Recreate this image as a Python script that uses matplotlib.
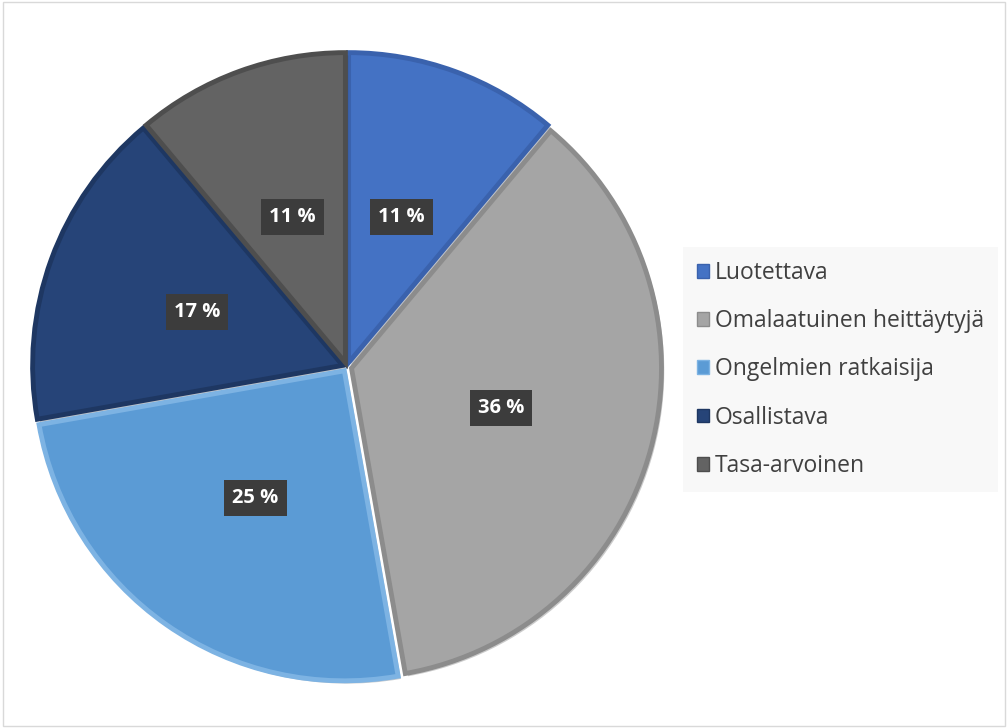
import matplotlib.pyplot as plt
from matplotlib.patches import Rectangle
import matplotlib.patheffects as pe

# arvot (vastausten lukumäärät)
labels = ["Luotettava", "Omalaatuinen heittäytyjä", "Ongelmien ratkaisija", "Osallistava", "Tasa-arvoinen"]
counts = [4, 13, 9, 6, 4]
colors = ["#4472C4", "#A5A5A5", "#5B9BD5", "#264478", "#636363"]
edges = ["#3A62AD", "#8C8C8C", "#7DB3E3", "#1E3762", "#4E4E4E"]

plt.rcParams['font.family'] = ['Open Sans', 'DejaVu Sans']

fig = plt.figure(figsize=(10.08, 7.28), dpi=100)
fig.patches.append(Rectangle((0.003, 0.003), 0.994, 0.994, transform=fig.transFigure,
                             fill=False, edgecolor="#D9D9D9", linewidth=1))

ax = fig.add_axes([(347 - 320) / 1008, (361 - 320) / 728, 640 / 1008, 640 / 728])
wedges, texts, autotexts = ax.pie(
    counts, colors=colors, startangle=90, counterclock=False, radius=1.0,
    explode=[0.015] * 5, autopct=lambda p: f"{p:.0f} %", pctdistance=0.5,
    wedgeprops=dict(linewidth=3.5, edgecolor="white"),
    textprops=dict(color="white", fontsize=14.5, fontweight="bold"))
for w, e in zip(wedges, edges):
    w.set_edgecolor(e)
    w.set_path_effects([pe.SimplePatchShadow(offset=(2, -2), alpha=0.25), pe.Normal()])
for t in autotexts:
    t.set_bbox(dict(boxstyle="square,pad=0.4", facecolor="#3C3C3C", edgecolor="none"))
ax.set_xlim(-320 / 310, 320 / 310)
ax.set_ylim(-320 / 310, 320 / 310)
ax.set_aspect("equal")
ax.axis("off")

handles = [Rectangle((0, 0), 1, 1, facecolor=c, edgecolor=e, linewidth=1) for c, e in zip(colors, edges)]
leg = fig.legend(handles, labels, loc="upper left", bbox_to_anchor=(683 / 1008, 1 - 247 / 728),
                 frameon=True, fontsize=16.5, handlelength=0.55, handleheight=0.55,
                 handletextpad=0.25, labelspacing=1.06, borderpad=0.6, borderaxespad=0,
                 fancybox=False, labelcolor="#404040")
leg.get_frame().set_facecolor("#F7F7F7")
leg.get_frame().set_edgecolor("none")

fig.savefig("out.png", dpi=100)
